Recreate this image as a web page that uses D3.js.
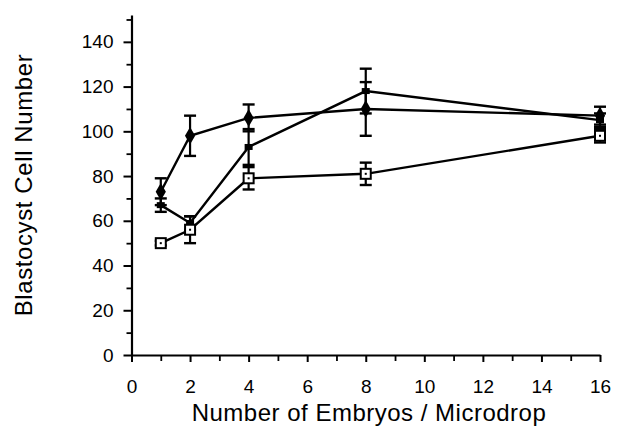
<!DOCTYPE html>
<html>
<head>
<meta charset="utf-8">
<script src="https://cdn.jsdelivr.net/npm/d3@7"></script>
<style>
    body { margin: 0; background: #fff; }
    text { font-family: "Liberation Sans", Arial, sans-serif; fill: #000; }
</style>
</head>
<body>
<svg id="chart" width="620" height="426"></svg>
<script>
// values
const embryos = [1, 2, 4, 8, 16];
const diamondMean = [73, 98, 106, 110, 107];
const diamondErr = [6, 9, 6, 12, 4];
const dotMean = [67, 59, 93, 118, 105];
const dotErr = [3, 3, 8, 10, 3];
const squareMean = [50, 56, 79, 81, 98];
const squareErr = [1, 6, 5, 5, 3];
const xTicks = [0, 2, 4, 6, 8, 10, 12, 14, 16];
const yTicks = [0, 20, 40, 60, 80, 100, 120, 140];

const svg = d3.select("#chart");

const x = d3.scaleLinear([0, 16], [131.5, 600]);
const y = d3.scaleLinear([0, 152], [355, 15]);

// y axis: minor ticks first, then labelled majors
svg.append("g")
    .attr("transform", "translate(131.5,0)")
    .call(d3.axisLeft(y).tickValues(d3.range(10, 160, 20)).tickSize(5).tickFormat(""))
    .call(g => g.select(".domain").remove())
    .selectAll("line").attr("stroke-width", 1.8);

const yAxis = svg.append("g")
    .attr("transform", "translate(131.5,0)")
    .call(d3.axisLeft(y).tickValues(yTicks).tickSize(8).tickPadding(10).tickSizeOuter(0));
yAxis.select(".domain").attr("stroke-width", 2.2);
yAxis.selectAll("line").attr("stroke-width", 2);
yAxis.selectAll("text").style("font-size", "19px");

// x axis
svg.append("g")
    .attr("transform", "translate(0,355)")
    .call(d3.axisBottom(x).tickValues(d3.range(1, 16, 2)).tickSize(6).tickFormat(""))
    .call(g => g.select(".domain").remove())
    .selectAll("line").attr("stroke-width", 1.8);

const xAxis = svg.append("g")
    .attr("transform", "translate(0,355)")
    .call(d3.axisBottom(x).tickValues(xTicks).tickSize(7).tickPadding(18).tickSizeOuter(0));
xAxis.select(".domain").attr("stroke-width", 2.2);
xAxis.selectAll("line").attr("stroke-width", 2);
xAxis.selectAll("text").style("font-size", "19px");

// titles
svg.append("text")
    .attr("transform", "translate(32,185) rotate(-90)")
    .attr("text-anchor", "middle")
    .style("font-size", "24px")
    .style("letter-spacing", "0.6px")
    .text("Blastocyst Cell Number");

svg.append("text")
    .attr("x", 369)
    .attr("y", 421)
    .attr("text-anchor", "middle")
    .style("font-size", "24px")
    .style("letter-spacing", "0.5px")
    .text("Number of Embryos / Microdrop");

const series = [
    { name: "diamond", mean: diamondMean, err: diamondErr },
    { name: "dot", mean: dotMean, err: dotErr },
    { name: "square", mean: squareMean, err: squareErr }
];

const line = d3.line().x(d => x(d.x)).y(d => y(d.m));

series.forEach(s => {
    const pts = embryos.map((e, i) => ({ x: e, m: s.mean[i], e: s.err[i] }));
    const g = svg.append("g");

    g.append("path")
        .datum(pts)
        .attr("d", line)
        .attr("fill", "none")
        .attr("stroke", "#000")
        .attr("stroke-width", 2.4);

    const bars = g.selectAll(".err").data(pts).enter().append("g");
    bars.append("line")
        .attr("x1", d => x(d.x)).attr("x2", d => x(d.x))
        .attr("y1", d => y(d.m - d.e)).attr("y2", d => y(d.m + d.e))
        .attr("stroke", "#000").attr("stroke-width", 2.2);
    [-1, 1].forEach(k => {
        bars.append("line")
            .attr("x1", d => x(d.x) - 6).attr("x2", d => x(d.x) + 6)
            .attr("y1", d => y(d.m + k * d.e)).attr("y2", d => y(d.m + k * d.e))
            .attr("stroke", "#000").attr("stroke-width", 2.4);
    });

    if (s.name === "diamond") {
        g.selectAll(".mk").data(pts).enter().append("path")
            .attr("d", d3.symbol(d3.symbolDiamond, 90))
            .attr("transform", d => `translate(${x(d.x)},${y(d.m)})`)
            .attr("fill", "#000");
    } else if (s.name === "dot") {
        g.selectAll(".mk").data(pts).enter().append("rect")
            .attr("x", d => x(d.x) - 4).attr("y", d => y(d.m) - 3)
            .attr("width", 8).attr("height", 6)
            .attr("fill", "#000");
    } else {
        g.selectAll(".mk").data(pts).enter().append("rect")
            .attr("x", d => x(d.x) - 5).attr("y", d => y(d.m) - 5)
            .attr("width", 10).attr("height", 10)
            .attr("fill", "#fff").attr("stroke", "#000").attr("stroke-width", 2);
        g.selectAll(".dt").data(pts).enter().append("rect")
            .attr("x", d => x(d.x) - 1).attr("y", d => y(d.m) - 1)
            .attr("width", 2).attr("height", 2)
            .attr("fill", "#000");
    }
});
</script>
</body>
</html>
